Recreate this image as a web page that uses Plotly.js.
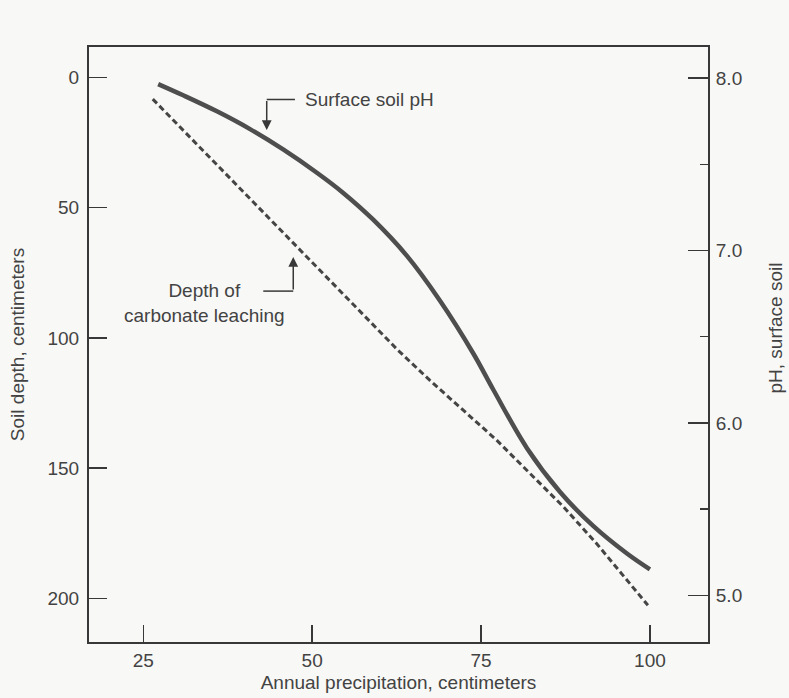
<!DOCTYPE html>
<html><head><meta charset="utf-8">
<script src="https://cdn.plot.ly/plotly-3.0.1.min.js"></script>
<style>html,body{margin:0;padding:0;background:#f8f8f6;}#chart{width:789px;height:698px;}</style>
</head><body><div id="chart"></div>
<script>
// Surface soil pH vs annual precipitation (right axis)
const precipPH = [27.2, 30.9, 35.9, 40.8, 45.7, 50.7, 54.6, 59.0, 64.0, 68.9, 73.9, 76.8, 81.8, 86.7, 91.6, 96.6, 100];
const surfacePH = [7.965, 7.90, 7.807, 7.704, 7.586, 7.451, 7.334, 7.18, 6.97, 6.71, 6.40, 6.194, 5.854, 5.60, 5.403, 5.243, 5.151];
// Depth of carbonate leaching vs annual precipitation (left axis)
const precipDepth = [26.4, 37.8, 49.7, 62.7, 67.4, 77.3, 87.2, 92.1, 99.7];
const leachDepth = [8.3, 38.7, 70.1, 104.7, 116.2, 139.2, 164.8, 178.9, 202.6];
// Axis ticks
const xTicks = [25, 50, 75, 100];
const depthTicks = [0, 50, 100, 150, 200];
const phTicks = [5, 6, 7, 8];
const phTickText = ['5.0', '6.0', '7.0', '8.0'];
const phMinor = [5.5, 6.5, 7.5];

const ink = '#383838';
const txt = '#434343';
const fnt = {family: 'Liberation Sans, Arial, sans-serif', size: 19, color: txt};

const traces = [
  {x: precipDepth, y: leachDepth, type: 'scatter', mode: 'lines', yaxis: 'y',
   line: {color: '#454545', width: 3, dash: '6px,3.5px'}, hoverinfo: 'skip'},
  {x: precipPH, y: surfacePH, type: 'scatter', mode: 'lines', yaxis: 'y2',
   line: {color: '#4e4e4e', width: 4.5, shape: 'spline', smoothing: 1}, hoverinfo: 'skip'}
];

const layout = {
  width: 789, height: 698,
  margin: {l: 89, r: 81, t: 47, b: 56, pad: 0},
  paper_bgcolor: '#f8f8f6', plot_bgcolor: '#f8f8f6',
  showlegend: false,
  font: fnt,
  xaxis: {
    range: [16.96, 108.6], tickvals: xTicks, ticks: 'inside', ticklen: 17, tickwidth: 1.5, tickcolor: ink,
    showline: true, linecolor: ink, linewidth: 2, mirror: true, showgrid: false, zeroline: false,
    tickfont: fnt, ticklabelstandoff: 0,
    title: {text: 'Annual precipitation, centimeters', font: fnt, standoff: 6}
  },
  yaxis: {
    range: [216.7, -11.7], tickvals: depthTicks, ticks: 'inside', ticklen: 18, tickwidth: 1.5, tickcolor: ink,
    showline: true, linecolor: ink, linewidth: 2, mirror: true, showgrid: false, zeroline: false,
    tickfont: fnt, ticklabelstandoff: 4,
    title: {text: 'Soil depth, centimeters', font: fnt, standoff: 18}
  },
  yaxis2: {
    overlaying: 'y', side: 'right',
    range: [4.73, 8.18], tickvals: phTicks, ticktext: phTickText, ticks: 'inside', ticklen: 20, tickwidth: 1.5, tickcolor: ink,
    minor: {tickvals: phMinor, ticks: 'inside', ticklen: 8, tickwidth: 1.5, tickcolor: ink},
    showline: true, linecolor: ink, linewidth: 2, showgrid: false, zeroline: false,
    tickfont: fnt, ticklabelstandoff: 2
  },
  shapes: [
    {type: 'line', xref: 'x', yref: 'y', x0: 43.27, y0: 8.45, x1: 47.45, y1: 8.45, line: {color: ink, width: 1.5}},
    {type: 'line', xref: 'x', yref: 'y', x0: 42.76, y0: 82.0, x1: 47.2, y1: 82.0, line: {color: ink, width: 1.5}}
  ],
  annotations: [
    {x: 48.7, y: 8.4, xref: 'x', yref: 'y', text: 'Surface soil pH', showarrow: false,
     xanchor: 'left', yanchor: 'middle', font: fnt},
    {x: 43.27, y: 20.2, ax: 43.27, ay: 8.45, xref: 'x', yref: 'y', axref: 'x', ayref: 'y', text: '',
     showarrow: true, arrowhead: 2, arrowsize: 1.3, arrowwidth: 1.5, arrowcolor: ink, standoff: 0},
    {x: 34.13, y: 86.6, xref: 'x', yref: 'y', text: 'Depth of<br>carbonate leaching', showarrow: false,
     xanchor: 'center', yanchor: 'middle', align: 'center', font: fnt},
    {x: 47.2, y: 68.9, ax: 47.2, ay: 82.0, xref: 'x', yref: 'y', axref: 'x', ayref: 'y', text: '',
     showarrow: true, arrowhead: 2, arrowsize: 1.3, arrowwidth: 1.5, arrowcolor: ink, standoff: 0},
    {x: 1.1083, y: 0.527, xref: 'paper', yref: 'paper', text: 'pH, surface soil', textangle: -90,
     showarrow: false, xanchor: 'center', yanchor: 'middle', font: fnt}
  ]
};

Plotly.newPlot('chart', traces, layout, {displayModeBar: false, staticPlot: true});
</script>
</body></html>
